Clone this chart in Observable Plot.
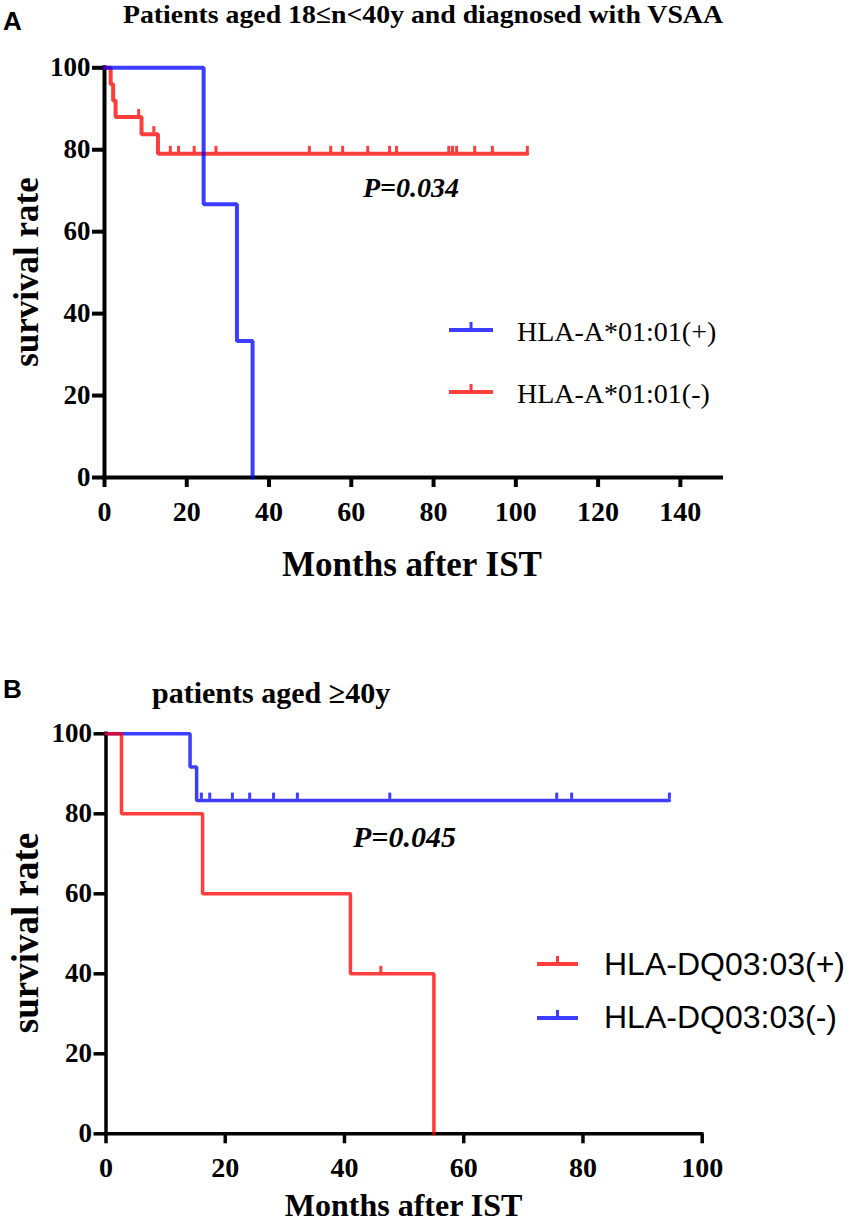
<!DOCTYPE html>
<html><head><meta charset="utf-8">
<script src="https://cdn.jsdelivr.net/npm/d3@7"></script>
<script src="https://cdn.jsdelivr.net/npm/@observablehq/plot@0.6"></script>
<style>
body{margin:0;background:#fff;}
#wrap{position:relative;width:850px;height:1223px;overflow:hidden;background:#fff;}
#wrap svg{position:absolute;left:0;}
</style></head><body><div id="wrap"></div>
<script>
// ---------- data ----------
const xTicksA = [0, 20, 40, 60, 80, 100, 120, 140];
const xTicksB = [0, 20, 40, 60, 80, 100];
const yTicks = [0, 20, 40, 60, 80, 100];

const titleA = "Patients aged  18\u2264n<40y and diagnosed with VSAA";
const titleB = "patients aged \u226540y";
const seriesA = ["HLA-A*01:01(+)", "HLA-A*01:01(-)"];
const seriesB = ["HLA-DQ03:03(+)", "HLA-DQ03:03(-)"];
const pA = "P=0.034";
const pB = "P=0.045";

// Panel A: HLA-A*01:01(+)
const aPosTime = [0, 24.1, 32.2, 36.0];
const aPosSurv = [100, 66.7, 33.3, 0];
const aPosCensored = [];
// Panel A: HLA-A*01:01(-)
const aNegTime = [0, 1.5, 2.1, 2.7, 9.0, 13.0, 102.8];
const aNegSurv = [100, 96, 92, 88, 83.8, 79, 79];
const aNegCensored = [8.3, 12.0, 16.0, 18.0, 21.8, 27.1, 49.8, 55.0, 57.9, 64.0, 69.3, 71.0, 83.7, 84.6, 85.6, 90.0, 94.3, 102.8];
// Panel B: HLA-DQ03:03(+)
const bPosTime = [0, 2.6, 16.2, 41.0, 55.0];
const bPosSurv = [100, 80, 60, 40, 0];
const bPosCensored = [46.1];
// Panel B: HLA-DQ03:03(-)
const bNegTime = [0, 14.1, 15.2, 94.5];
const bNegSurv = [100, 91.7, 83.3, 83.3];
const bNegCensored = [16.0, 17.4, 21.2, 24.1, 28.1, 32.1, 47.6, 75.6, 78.1, 94.5];

// ---------- helpers ----------
const RED = "#ff0000", BLUE = "#0000ff", OP = 0.76;
const SERIF = "'Liberation Serif','Times New Roman',serif";
const SANS = "'Liberation Sans',Arial,sans-serif";
const curve = (T, S) => T.map((t, i) => ({t, s: S[i]}));
const survAt = (T, S, t) => { let s = S[0]; T.forEach((tt, i) => { if (tt <= t) s = S[i]; }); return s; };
const cens = (C, T, S) => C.map(t => ({t, s: survAt(T, S, t)}));
const tickSym = {draw(ctx, size) { const r = Math.sqrt(size / Math.PI); ctx.moveTo(0, -1.8); ctx.lineTo(0, -2 * r); }};

function km(T, S, C, color, sw) {
  return [
    Plot.line(curve(T, S), {x: "t", y: "s", curve: "step-after", stroke: color, strokeWidth: sw, strokeOpacity: OP, strokeLinejoin: "miter"}),
    Plot.dot(cens(C, T, S), {x: "t", y: "s", symbol: tickSym, r: 4, stroke: color, strokeOpacity: OP, strokeWidth: 3, fill: "none"})
  ];
}

function axes(xTicks, xMax, sw, padX) {
  return [
    Plot.ruleY([0], {x1: 0, x2: xMax, stroke: "black", strokeWidth: sw, strokeLinecap: "square"}),
    Plot.ruleX([0], {y1: 0, y2: 100, stroke: "black", strokeWidth: sw, strokeLinecap: "square"}),
    Plot.axisX({ticks: xTicks, tickSize: 10, tickPadding: padX, strokeWidth: sw, fontSize: 28, fontWeight: "bold", fontFamily: SERIF, fill: "black", label: null, tickFormat: d => d}),
    Plot.axisY({ticks: yTicks, tickSize: 12, tickPadding: 2, strokeWidth: sw, fontSize: 27, fontWeight: "bold", fontFamily: SERIF, fill: "black", label: null, tickFormat: d => d})
  ];
}

const wrap = document.getElementById("wrap");

// ---------- Panel A ----------
const plotA = Plot.plot({
  width: 850, height: 600,
  marginLeft: 104, marginRight: 129, marginTop: 67.3, marginBottom: 123,
  x: {domain: [0, 150]}, y: {domain: [0, 100]},
  style: {background: "transparent", color: "black", fontFamily: SERIF},
  marks: [
    ...axes(xTicksA, 150, 4, 14),
    ...km(aNegTime, aNegSurv, aNegCensored, RED, 4),
    ...km(aPosTime, aPosSurv, aPosCensored, BLUE, 4)
  ]
});
plotA.style.top = "0px";
wrap.appendChild(plotA);

// ---------- Panel B ----------
const plotB = Plot.plot({
  width: 850, height: 603,
  marginLeft: 105.5, marginRight: 148.3, marginTop: 113.3, marginBottom: 89.7,
  x: {domain: [0, 100]}, y: {domain: [0, 100]},
  style: {background: "transparent", color: "black", fontFamily: SERIF},
  marks: [
    ...axes(xTicksB, 100, 3.5, 13),
    ...km(bNegTime, bNegSurv, bNegCensored, BLUE, 3.5),
    ...km(bPosTime, bPosSurv, bPosCensored, RED, 3.5)
  ]
});
plotB.style.top = "620px";
wrap.appendChild(plotB);

// ---------- text overlay ----------
const ov = d3.create("svg").attr("width", 850).attr("height", 1223).style("top", "0px").style("pointer-events", "none");
function txt(s, x, y, o = {}) {
  const t = ov.append("text").text(s).attr("x", x).attr("y", y)
    .attr("font-family", o.family || SERIF).attr("font-size", o.size || 28)
    .attr("font-weight", o.weight || "normal").attr("font-style", o.style || "normal")
    .attr("text-anchor", o.anchor || "start").attr("fill", "black");
  if (o.len) t.attr("textLength", o.len).attr("lengthAdjust", "spacingAndGlyphs");
  if (o.rotate) t.attr("x", null).attr("y", null).attr("transform", `translate(${x},${y}) rotate(-90)`);
  return t;
}
function swatch(x1, x2, y, color) {
  ov.append("line").attr("x1", x1).attr("x2", x2).attr("y1", y).attr("y2", y).attr("stroke", color).attr("stroke-opacity", OP).attr("stroke-width", 4);
  const xm = (x1 + x2) / 2;
  ov.append("line").attr("x1", xm).attr("x2", xm).attr("y1", y - 1.8).attr("y2", y - 8).attr("stroke", color).attr("stroke-opacity", OP).attr("stroke-width", 3);
}

// A
txt("A", 3, 30, {family: SANS, weight: "bold", size: 26});
txt(titleA, 123, 23, {weight: "bold", size: 26, len: 600});
txt("survival rate", 38, 272, {weight: "bold", size: 35, anchor: "middle", rotate: true});
txt("Months after IST", 412, 576, {weight: "bold", size: 35, anchor: "middle"});
txt(pA, 363, 197, {weight: "bold", style: "italic", size: 28});
swatch(449, 493, 330, BLUE);
txt(seriesA[0], 517, 341, {size: 28});
swatch(449, 493, 392, RED);
txt(seriesA[1], 517, 403, {size: 28});

// B
txt("B", 3, 698, {family: SANS, weight: "bold", size: 26});
txt(titleB, 152, 703, {weight: "bold", size: 30});
txt("survival rate", 38, 933, {weight: "bold", size: 37, anchor: "middle", rotate: true});
txt("Months after IST", 403.6, 1216, {weight: "bold", size: 32, anchor: "middle"});
txt(pB, 353, 847, {weight: "bold", style: "italic", size: 30});
swatch(537, 578, 964, RED);
txt(seriesB[0], 604, 975, {family: SANS, size: 32});
swatch(537, 578, 1018, BLUE);
txt(seriesB[1], 604, 1028, {family: SANS, size: 32});

wrap.appendChild(ov.node());
</script></body></html>
